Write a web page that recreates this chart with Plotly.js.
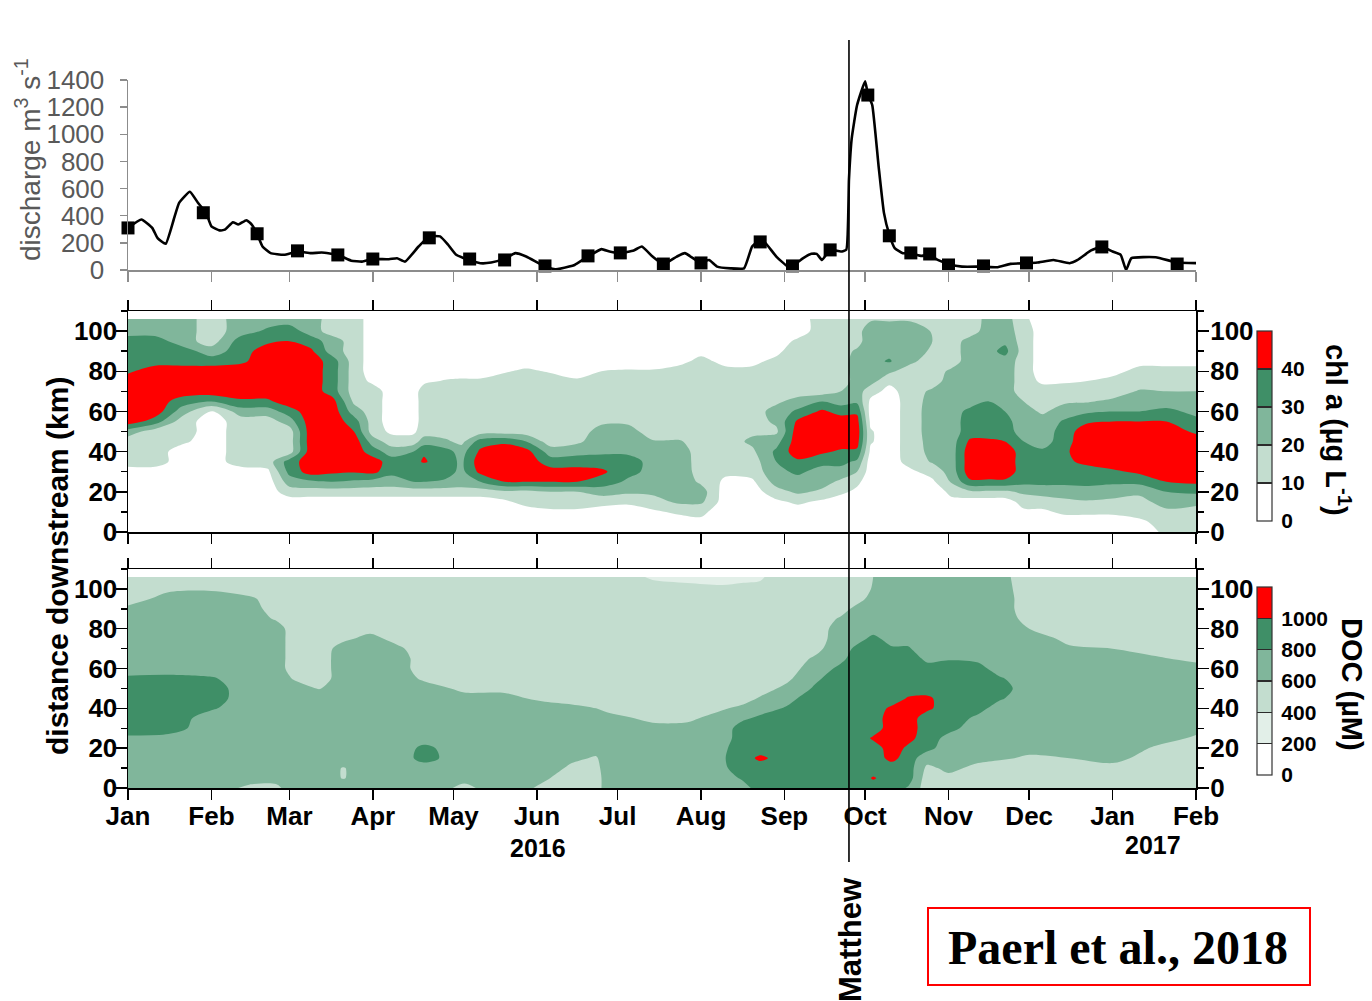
<!DOCTYPE html>
<html><head><meta charset="utf-8">
<script src="https://cdn.plot.ly/plotly-3.0.1.min.js"></script>
<style>html,body{margin:0;padding:0;background:#fff}#chart{width:1372px;height:1001px}</style>
</head><body><div id="chart"></div>
<script>
// ---------- discharge (top panel) ----------
const qDates = ['2016-01-01','2016-01-06','2016-01-10','2016-01-12','2016-01-15','2016-01-18','2016-01-20','2016-01-24','2016-01-27','2016-01-30',
'2016-02-01','2016-02-04','2016-02-06','2016-02-09','2016-02-11','2016-02-14','2016-02-16','2016-02-18','2016-02-20','2016-02-23',
'2016-02-28','2016-03-04','2016-03-09','2016-03-13','2016-03-19','2016-03-24','2016-03-28','2016-04-01','2016-04-07','2016-04-10',
'2016-04-13','2016-04-18','2016-04-22','2016-04-26','2016-04-29','2016-05-02','2016-05-06','2016-05-11','2016-05-15','2016-05-20',
'2016-05-24','2016-05-28','2016-06-04','2016-06-08','2016-06-13','2016-06-15','2016-06-20','2016-06-25','2016-06-28','2016-07-02',
'2016-07-07','2016-07-10','2016-07-14','2016-07-18','2016-07-23','2016-07-26','2016-07-30','2016-08-01','2016-08-04','2016-08-07',
'2016-08-12','2016-08-17','2016-08-20','2016-08-23','2016-08-25','2016-08-29','2016-09-02','2016-09-04','2016-09-08','2016-09-11',
'2016-09-13','2016-09-15','2016-09-18','2016-09-22','2016-09-24','2016-09-25','2016-09-26','2016-09-28','2016-10-01','2016-10-02',
'2016-10-03 16:00','2016-10-06','2016-10-08','2016-10-10','2016-10-12','2016-10-15','2016-10-18','2016-10-22','2016-10-25','2016-10-28',
'2016-11-01','2016-11-06','2016-11-14','2016-11-19','2016-11-24','2016-11-30','2016-12-04','2016-12-10','2016-12-16','2016-12-19',
'2016-12-24','2016-12-28','2017-01-01','2017-01-04','2017-01-06','2017-01-08','2017-01-17','2017-01-25','2017-02-02'];
const qValues = [310,372,310,235,193,372,495,577,495,421,
322,292,297,352,335,367,335,265,173,124,
112,136,124,129,112,69,62,82,79,87,
62,173,248,248,186,112,79,50,55,84,
124,99,25,5,25,37,99,154,136,124,
144,173,99,42,99,124,74,55,74,25,
12,12,173,223,198,99,30,30,87,119,
119,74,149,136,149,669,966,1214,1390,1300,
1214,768,421,260,161,124,124,104,112,74,
45,25,25,20,45,50,55,74,50,74,
144,173,136,112,0,87,94,55,50];
const sampleDates = ['2016-01-01','2016-01-29','2016-02-18','2016-03-04','2016-03-19','2016-04-01','2016-04-22','2016-05-07','2016-05-20','2016-06-04',
'2016-06-20','2016-07-02','2016-07-18','2016-08-01','2016-08-23','2016-09-04','2016-09-18','2016-10-02','2016-10-10','2016-10-18',
'2016-10-25','2016-11-01','2016-11-14','2016-11-30','2016-12-28','2017-01-25'];
const sampleValues = [310,422,267,141,111,81,237,81,74,30,104,126,44,52,207,30,148,1289,252,126,118,37,30,52,170,44];

// ---------- shared ----------
const monthTicks = ['2016-01-01','2016-02-01','2016-03-01','2016-04-01','2016-05-01','2016-06-01','2016-07-01','2016-08-01','2016-09-01','2016-10-01','2016-11-01','2016-12-01','2017-01-01','2017-02-01'];
const monthLabels = ['Jan','Feb','Mar','Apr','May','Jun','Jul','Aug','Sep','Oct','Nov','Dec','Jan','Feb'];
const kmRows = [0,5,10,15,20,25,30,35,40,45,50,55,60,65,70,75,80,85,90,95,100,106];
const hurricaneDate = '2016-09-25';

// ---------- chl a (middle panel): one profile (values at kmRows) per date ----------
const chlDates = ['2016-01-01','2016-01-11','2016-01-21','2016-02-01','2016-02-12','2016-02-22','2016-03-01','2016-03-09','2016-03-17','2016-03-25',
'2016-04-01','2016-04-08','2016-04-16','2016-04-20','2016-04-28','2016-05-04','2016-05-11','2016-05-20','2016-05-28','2016-06-06',
'2016-06-16','2016-06-25','2016-07-05','2016-07-14','2016-07-24','2016-08-01','2016-08-10','2016-08-20','2016-08-29','2016-09-06',
'2016-09-15','2016-09-22','2016-09-28','2016-10-03','2016-10-10','2016-10-18','2016-10-26','2016-11-02','2016-11-09','2016-11-16',
'2016-11-22','2016-11-29','2016-12-06','2016-12-14','2016-12-22','2017-01-01','2017-01-11','2017-01-21','2017-02-01'];
const chlProfiles = [
[5,5,5,5,5,5,5,15,15,15,25,46,46,46,46,46,38,35,35,35,25,25],
[5,5,5,5,5,5,5,15,15,15,15,35,46,46,46,46,46,35,35,35,25,25],
[5,5,5,5,5,5,5,5,5,12,15,15,25,35,46,46,46,35,35,25,25,25],
[5,5,5,5,5,5,5,5,5,5,5,5,8,30,46,46,46,35,25,15,15,15],
[5,5,5,5,5,5,5,15,15,15,15,15,25,38,46,46,46,38,35,35,25,25],
[5,5,5,5,5,5,8,15,15,15,15,15,25,38,46,46,46,46,46,38,32,25],
[5,5,5,5,15,25,33,35,15,15,15,25,35,46,46,46,46,46,46,40,35,25],
[5,5,5,5,15,28,45,46,46,46,46,46,46,46,46,46,46,46,42,35,25,25],
[5,5,5,5,15,30,42,46,46,46,46,46,46,44,35,35,35,35,25,25,15,15],
[5,5,5,5,15,28,41,46,46,46,40,35,25,18,15,15,15,15,15,15,15,15],
[5,5,5,5,15,26,43,45,35,25,15,15,15,15,15,8,5,5,5,5,5,5],
[5,5,5,5,15,25,33,35,25,15,8,5,5,5,5,5,5,5,5,5,5,5],
[5,5,5,5,15,30,35,37,30,15,8,5,5,5,5,5,5,5,5,5,5,5],
[5,5,5,5,15,30,32,41,39,25,15,15,15,15,15,8,5,5,5,5,5,5],
[5,5,5,5,15,28,35,35,34,22,15,15,15,15,15,11,5,5,5,5,5,5],
[5,5,5,5,15,26,27,28,26,17,15,15,15,15,15,12,5,5,5,5,5,5],
[5,5,5,5,15,30,43,46,42,35,15,15,15,15,15,12,5,5,5,5,5,5],
[5,5,5,8,18,40,46,46,46,38,15,15,15,15,15,15,9,5,5,5,5,5],
[5,5,5,14,17,40,46,46,44,30,15,15,15,15,15,15,12,5,5,5,5,5],
[5,5,8,15,20,40,44,35,25,15,15,15,15,15,15,15,9,5,5,5,5,5],
[5,5,8,15,20,40,44,35,27,18,15,15,15,15,15,12,5,5,5,5,5,5],
[5,5,5,14,24,36,42,35,28,26,24,18,15,15,15,15,10,5,5,5,5,5],
[5,5,5,12,22,28,33,34,28,26,24,18,15,15,15,15,11,5,5,5,5,5],
[5,5,8,16,22,26,27,27,25,21,15,15,15,15,15,15,11,5,5,5,5,5],
[5,5,12,22,25,27,27,26,25,21,15,15,15,15,15,15,13,8,5,5,5,5],
[5,8,12,22,25,18,15,15,15,15,15,15,15,15,15,15,15,12,8,5,5,5],
[5,5,5,5,5,8,12,15,15,15,15,15,15,15,15,15,12,8,5,5,5,5],
[5,5,5,5,5,8,14,15,18,22,18,15,15,15,15,15,12,8,5,5,5,5],
[5,5,5,8,16,24,27,30,32,26,18,22,24,18,15,15,15,12,8,5,5,5],
[5,5,5,12,22,26,32,38,46,46,46,42,32,24,15,15,15,15,15,12,5,5],
[5,5,5,8,18,24,26,33,42,46,46,46,42,30,15,15,15,15,15,15,15,15],
[5,5,5,5,12,18,26,33,38,46,46,46,36,26,20,15,15,15,15,15,15,15],
[5,5,5,5,8,12,20,28,38,44,46,44,38,28,25,24,25,25,22,15,15,15],
[5,5,5,5,5,5,5,5,8,11,11,8,6,8,14,24,26,27,27,28,28,18],
[5,5,5,5,5,5,5,5,5,5,5,5,5,5,7,12,22,31,27,27,28,18],
[5,5,5,5,5,5,8,14,15,15,15,15,15,15,15,15,15,22,26,27,28,18],
[5,5,5,5,5,8,14,21,23,24,25,25,25,24,22,15,15,15,18,20,19,15],
[5,5,5,8,12,21,24,25,25,25,25,25,25,25,25,25,22,15,15,15,15,15],
[5,5,5,5,18,38,46,46,46,42,35,35,33,25,25,25,25,25,25,24,15,12],
[5,5,5,5,18,38,46,46,46,42,35,35,35,30,25,25,25,25,27,27,25,25],
[5,5,5,5,18,38,46,46,46,40,35,33,30,25,25,25,25,26,33,28,25,25],
[5,5,8,14,22,33,35,35,35,30,25,25,25,20,15,15,15,15,15,15,15,12],
[5,5,8,15,24,33,35,35,32,25,25,25,18,15,15,8,5,5,5,5,5,5],
[5,5,12,18,24,33,36,38,38,36,34,31,26,18,14,9,5,5,5,5,5,5],
[5,5,12,19,26,33,36,42,46,46,46,38,28,19,14,10,5,5,5,5,5,5],
[5,5,12,18,24,32,38,46,46,46,46,40,30,22,15,12,8,5,5,5,5,5],
[5,8,14,17,22,33,42,46,46,46,46,40,30,25,21,15,12,8,5,5,5,5],
[12,14,18,24,30,40,46,46,46,46,46,40,32,26,20,15,12,8,5,5,5,5],
[15,15,17,22,32,42,46,46,46,46,38,32,28,25,20,15,12,8,5,5,5,5]];
const chlLevels = [0,10,20,30,40];

// ---------- DOC (bottom panel) ----------
const docDates = ['2016-01-01','2016-01-16','2016-02-01','2016-02-15','2016-02-25','2016-03-03','2016-03-12','2016-03-21','2016-03-31','2016-04-10',
'2016-04-20','2016-05-05','2016-05-20','2016-06-04','2016-06-14','2016-06-23','2016-06-27','2016-07-14','2016-07-27','2016-08-09',
'2016-08-16','2016-08-23','2016-09-02','2016-09-12','2016-09-22','2016-09-29','2016-10-04','2016-10-11','2016-10-17','2016-10-24',
'2016-11-01','2016-11-12','2016-11-20','2016-12-01','2016-12-16','2017-01-01','2017-01-17','2017-02-01'];
const docProfiles = [
[700,700,700,700,700,760,900,900,900,900,900,840,700,700,700,700,700,700,650,500,500,500],
[700,700,700,700,700,740,880,900,900,900,900,860,700,700,700,700,700,700,700,680,560,500],
[700,700,700,700,700,700,700,720,820,880,880,820,700,700,700,700,700,700,700,680,580,500],
[560,680,700,700,700,700,700,700,700,700,700,700,700,700,700,700,700,700,700,640,500,500],
[560,660,700,700,700,700,700,700,700,700,700,700,700,700,700,700,690,580,500,500,500,500],
[700,700,700,700,700,700,700,700,700,700,680,580,500,500,500,500,500,500,500,500,500,500],
[700,700,700,700,700,700,700,700,700,680,590,500,500,500,500,500,500,500,500,500,500,500],
[700,590,590,700,700,700,700,700,700,700,700,700,700,700,680,560,500,500,500,500,500,500],
[700,700,700,700,700,700,700,700,700,700,700,700,700,700,700,660,540,500,500,500,500,500],
[700,700,700,700,700,700,700,700,700,700,700,700,700,700,640,540,500,500,500,500,500,500],
[700,700,720,860,840,720,700,700,700,700,680,570,500,500,500,500,500,500,500,500,500,500],
[560,650,700,700,700,700,700,700,700,660,560,500,500,500,500,500,500,500,500,500,500,500],
[700,700,700,700,700,700,700,700,700,650,560,500,500,500,500,500,500,500,500,500,500,500],
[560,620,700,700,700,700,700,700,680,560,500,500,500,500,500,500,500,500,500,500,500,500],
[500,520,560,640,700,700,700,700,640,540,500,500,500,500,500,500,500,500,500,500,500,500],
[500,500,540,580,680,700,700,690,600,520,500,500,500,500,500,500,500,500,500,500,500,500],
[700,700,700,700,700,700,700,660,560,500,500,500,500,500,500,500,500,500,500,500,500,500],
[700,700,700,700,700,700,650,560,500,500,500,500,500,500,500,500,500,500,500,500,460,380],
[700,700,700,700,700,700,660,560,500,500,500,500,500,500,500,500,500,500,500,500,440,360],
[700,700,760,780,760,700,700,680,580,500,500,500,500,500,500,500,500,500,500,500,420,360],
[700,820,900,900,900,900,880,760,640,520,500,500,500,500,500,500,500,500,500,500,420,380],
[900,900,900,1040,900,900,900,840,720,620,520,500,500,500,500,500,500,500,500,500,440,380],
[900,900,900,900,900,900,900,900,820,740,650,560,500,500,500,500,500,500,500,500,500,500],
[900,900,900,900,900,900,900,900,900,900,820,760,700,620,540,500,500,500,500,500,500,500],
[900,900,900,900,900,900,900,900,900,900,900,900,840,760,720,700,680,620,540,500,500,500],
[900,900,900,900,900,900,900,900,900,900,900,900,900,900,860,760,720,700,660,560,500,500],
[900,1020,900,900,900,1030,900,900,900,900,900,900,900,900,900,840,740,700,700,660,620,600],
[900,900,900,1060,1100,1100,1100,1100,1040,900,900,900,900,900,820,740,700,700,700,700,700,680],
[780,900,900,900,960,1060,1100,1100,1100,1020,900,900,900,900,820,740,700,700,700,700,700,680],
[500,500,560,680,860,900,900,900,1040,1040,900,900,860,760,700,700,700,700,700,700,700,680],
[500,560,640,700,700,740,860,900,900,900,900,900,900,780,700,700,700,700,700,680,640,600],
[500,500,560,640,700,700,700,760,860,900,900,900,860,760,700,700,700,700,700,700,660,640],
[500,500,520,620,700,700,700,700,720,820,880,820,720,700,700,700,700,700,700,700,680,660],
[500,500,520,580,640,700,700,700,700,700,700,700,700,700,700,680,600,540,500,500,500,500],
[500,500,540,600,680,700,700,700,700,700,700,700,700,690,620,560,500,500,500,500,500,500],
[500,500,560,640,700,700,700,700,700,700,700,700,700,660,600,540,500,500,500,500,500,500],
[500,500,500,540,580,660,700,700,700,700,700,700,700,620,540,500,500,500,500,500,500,500],
[500,500,500,500,520,580,640,700,700,700,700,700,660,560,500,500,500,500,500,500,500,500]];
const docLevels = [0,200,400,600,800,1000];

// ---------- styling ----------
const W = 1372, H = 1001;
const px = x => x / W, py = y => (H - y) / H;
const SANS = 'Liberation Sans, Arial, sans-serif';
const bold = (size, color) => ({family: SANS, size: size, color: color || '#000', weight: 'bold'});
const C = {white:'#ffffff', vlight:'#e2efe8', light:'#c3ddcf', mid:'#80b69b', dark:'#3f8f67', red:'#ff0000'};
function stepScale(colors, edges){
  const s = []; const b = [0].concat(edges, [1]);
  colors.forEach((c,i)=>{ s.push([b[i], c]); s.push([b[i+1], c]); });
  return s;
}
// legend scale: equal bands with thin dark separators
function legendScale(colors){
  const n = colors.length, s = [], e = 0.004;
  colors.forEach((c,i)=>{
    const a = i/n, b = (i+1)/n;
    s.push([i===0 ? 0 : a+e, c]); s.push([i===n-1 ? 1 : b-e, c]);
    if(i < n-1){ s.push([b-e, '#2b2b2b']); s.push([b+e, '#2b2b2b']); }
  });
  return s;
}
const chlColors = [C.white,C.light,C.mid,C.dark,C.red];
const docColors = [C.white,C.vlight,C.light,C.mid,C.dark,C.red];
const chlScale = stepScale(chlColors,[0.1,0.35,0.6,0.85]);
const docScale = stepScale(docColors,[0.08,0.28,0.48,0.68,0.88]);
const transpose = cols => kmRows.map((_,j)=>cols.map(col=>col[j]));

const xDom = [px(128), px(1196)];
const xRange = ['2016-01-01','2017-02-01'];

const cbBase = (yc, len, vals) => ({x:px(1257), xanchor:'left', xpad:0, y:py(yc), yanchor:'middle', ypad:0,
  len:len, lenmode:'pixels', thickness:15, thicknessmode:'pixels', outlinewidth:1.2, outlinecolor:'#333',
  tickmode:'array', tickvals:vals, ticks:'outside', ticklen:5, tickcolor:'rgba(0,0,0,0)', tickfont:bold(21)});

const data = [
  {type:'scatter', x:qDates, y:qValues, xaxis:'x', yaxis:'y', mode:'lines',
   line:{color:'#000', width:2.6, shape:'spline', smoothing:0.4}, hoverinfo:'skip', showlegend:false},
  {type:'scatter', x:sampleDates, y:sampleValues, xaxis:'x', yaxis:'y', mode:'markers', cliponaxis:false,
   marker:{symbol:'square', size:13, color:'#000'}, hoverinfo:'skip', showlegend:false},
  {type:'contour', x:chlDates, y:kmRows, z:transpose(chlProfiles), xaxis:'x2', yaxis:'y2',
   autocontour:false, contours:{start:10, end:40, size:10, coloring:'fill', showlines:false},
   line:{width:0, smoothing:0.9}, colorscale:chlScale, showscale:false, hoverinfo:'skip'},
  {type:'contour', x:docDates, y:kmRows, z:transpose(docProfiles), xaxis:'x3', yaxis:'y3',
   autocontour:false, contours:{start:200, end:1000, size:200, coloring:'fill', showlines:false},
   line:{width:0, smoothing:0.9}, colorscale:docScale, showscale:false, hoverinfo:'skip'},
  // colour keys for the two contour panels, drawn by Plotly colorbars
  {type:'scatter', x:[xRange[0]], y:[-100], xaxis:'x2', yaxis:'y4', mode:'markers', hoverinfo:'skip', showlegend:false,
   marker:{size:1, color:[0], cmin:0, cmax:50, colorscale:legendScale(chlColors), showscale:true,
           colorbar:cbBase(426, 190, chlLevels)}},
  {type:'scatter', x:[xRange[0]], y:[-100], xaxis:'x3', yaxis:'y5', mode:'markers', hoverinfo:'skip', showlegend:false,
   marker:{size:1, color:[0], cmin:0, cmax:1200, colorscale:legendScale(docColors), showscale:true,
           colorbar:cbBase(681, 188, docLevels)}}
];

const boxX = (anchor, extra) => Object.assign({domain:xDom, range:xRange, type:'date', anchor:anchor,
  showline:true, linecolor:'#000', linewidth:1.5, mirror:'ticks', ticks:'outside', ticklen:10, tickwidth:1.5, tickcolor:'#000',
  tickmode:'array', tickvals:monthTicks, showticklabels:false, showgrid:false, zeroline:false}, extra||{});
const boxY = (dom, anchor) => ({domain:dom, range:[0,110], anchor:anchor, showline:true, linecolor:'#000', linewidth:1.5,
  mirror:'ticks', ticks:'outside', ticklen:11, tickwidth:1.5, tickcolor:'#000', tick0:0, dtick:20,
  minor:{ticks:'outside', ticklen:6, dtick:10, tickwidth:1.5, tickcolor:'#000'},
  tickfont:bold(26), ticklabelstandoff:-7, showgrid:false, zeroline:false});
const rightY = (over, anchor) => ({overlaying:over, side:'right', anchor:anchor, range:[0,110], tick0:0, dtick:20,
  ticks:'outside', ticklen:10, tickwidth:1.5, tickcolor:'#000', tickfont:bold(26), ticklabelstandoff:-2,
  showline:false, showgrid:false, zeroline:false});

const layout = {
  width:W, height:H, margin:{l:0,r:0,t:0,b:0}, paper_bgcolor:'#fff', plot_bgcolor:'rgba(0,0,0,0)',
  showlegend:false, font:{family:SANS, color:'#000'},
  xaxis:{domain:xDom, range:xRange, type:'date', anchor:'y', showline:true, linecolor:'#8c8c8c', linewidth:1.5,
    ticks:'outside', ticklen:10, tickwidth:1.5, tickcolor:'#8c8c8c', tickmode:'array', tickvals:monthTicks,
    showticklabels:false, showgrid:false, zeroline:false},
  yaxis:{domain:[py(270), py(80)], range:[0,1400], anchor:'x', showline:true, linecolor:'#8c8c8c', linewidth:1.5,
    ticks:'outside', ticklen:7, tickwidth:1.5, tickcolor:'#8c8c8c', dtick:200, ticklabelstandoff:10,
    tickfont:{family:'Liberation Sans Narrow, Liberation Sans, Arial, sans-serif', size:26, color:'#595959'},
    showgrid:false, zeroline:false},
  xaxis2:boxX('y2', {matches:'x'}),
  yaxis2:boxY([py(532), py(311)], 'x2'),
  yaxis4:rightY('y2','x2'),
  xaxis3:boxX('y3', {matches:'x', showticklabels:true, ticktext:monthLabels, tickfont:bold(26), ticklabelstandoff:-6}),
  yaxis3:boxY([py(788), py(569)], 'x3'),
  yaxis5:rightY('y3','x3'),
  shapes:[
    {type:'line', xref:'x', yref:'paper', x0:hurricaneDate, x1:hurricaneDate, y0:py(862), y1:py(40),
     line:{color:'#000', width:1.6}, layer:'above'},
    {type:'rect', xref:'paper', yref:'paper', x0:px(928), x1:px(1310), y0:py(985), y1:py(908),
     line:{color:'#ff0000', width:2}, fillcolor:'rgba(0,0,0,0)'}
  ],
  annotations:[
    {xref:'paper', yref:'paper', x:px(28), y:py(160), text:'discharge m<sup>3</sup> s<sup>-1</sup>', textangle:-90,
     showarrow:false, xanchor:'center', yanchor:'middle', font:{family:SANS, size:28, color:'#595959'}},
    {xref:'paper', yref:'paper', x:px(57), y:py(566), text:'distance downstream (km)', textangle:-90,
     showarrow:false, xanchor:'center', yanchor:'middle', font:bold(30)},
    {xref:'paper', yref:'paper', x:px(1338), y:py(430), text:'chl a (µg L<sup>-1</sup>)', textangle:90,
     showarrow:false, xanchor:'center', yanchor:'middle', font:bold(29)},
    {xref:'paper', yref:'paper', x:px(1352), y:py(684), text:'DOC (µM)', textangle:90,
     showarrow:false, xanchor:'center', yanchor:'middle', font:bold(29)},
    {xref:'paper', yref:'paper', x:px(538), y:py(848), text:'2016', showarrow:false, xanchor:'center', yanchor:'middle', font:bold(25)},
    {xref:'paper', yref:'paper', x:px(1153), y:py(845), text:'2017', showarrow:false, xanchor:'center', yanchor:'middle', font:bold(25)},
    {xref:'paper', yref:'paper', x:px(850), y:py(940), text:'Matthew', textangle:-90, showarrow:false,
     xanchor:'center', yanchor:'middle', font:bold(31)},
    {xref:'paper', yref:'paper', x:px(1118), y:py(947), text:'Paerl et al., 2018', showarrow:false,
     xanchor:'center', yanchor:'middle', font:{family:'Liberation Serif, Times New Roman, serif', size:48, color:'#000', weight:'bold'}}
  ]
};

Plotly.newPlot('chart', data, layout, {staticPlot:true, displayModeBar:false});
</script></body></html>
